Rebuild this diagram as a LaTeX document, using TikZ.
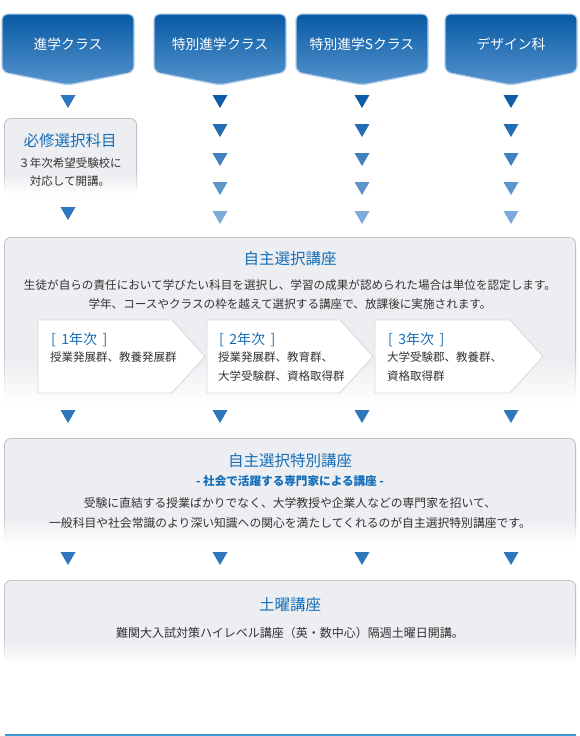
\documentclass[tikz,border=0pt]{standalone}
\usepackage{fontspec}
\setmainfont{Noto Sans CJK JP}
\definecolor{hdtop}{RGB}{8,90,164}
\definecolor{hdmid}{RGB}{22,104,176}
\definecolor{hdbot}{RGB}{86,148,206}
\definecolor{hdline}{RGB}{180,206,232}
\definecolor{boxg}{RGB}{236,238,241}
\definecolor{bordg}{RGB}{190,193,197}
\definecolor{aline}{RGB}{214,218,222}
\definecolor{ttl}{RGB}{22,110,184}
\definecolor{txt}{RGB}{51,51,51}
\definecolor{tra}{RGB}{12,92,166}
\definecolor{trb}{RGB}{34,108,178}
\definecolor{trc}{RGB}{62,128,192}
\definecolor{trd}{RGB}{92,148,204}
\definecolor{tre}{RGB}{126,170,218}
\definecolor{trm}{RGB}{48,118,188}
\definecolor{botline}{RGB}{58,154,216}
\pgfdeclareverticalshading{gfill}{100bp}{color(0bp)=(white); color(25bp)=(white); color(38bp)=(boxg); color(75bp)=(boxg); color(100bp)=(boxg)}
\pgfdeclareverticalshading{gring}{100bp}{color(0bp)=(white); color(27bp)=(white); color(42bp)=(bordg); color(100bp)=(bordg)}
\newcommand\graybox[4]{%
  \shade[shading=gring, even odd rule, rounded corners=7pt] (#1,#2) rectangle (#3,#4) [rounded corners=6pt] (#1+1.1,#2+1.1) rectangle (#3-1.1,#4-1.1);
  \shade[shading=gfill, rounded corners=6pt] (#1+1.1,#2+1.1) rectangle (#3-1.1,#4-1.1);
}
\newcommand\hdbox[3]{%
  \shadedraw[top color=hdtop, middle color=hdmid, bottom color=hdbot, draw=hdline, line width=1.2pt, rounded corners=6pt]
    (#1-66,72) -- (#1-66,14) -- (#1+66,14) -- (#1+66,72) -- (#1,85) -- cycle;
  \node[hdtext] (#2) at (#1,44) {#3};
}
\newcommand\tri[3]{\fill[#3] (#1-7.5,#2) -- (#1+7.5,#2) -- (#1,#2+13) -- cycle;}
\begin{document}
\begin{tikzpicture}[x=1pt,y=-1pt,
  every node/.style={inner sep=0pt},
  hdtext/.style={text=white, font=\fontsize{13.8}{16}\selectfont},
  ttlt/.style={text=ttl, font=\fontsize{15.5}{18}\selectfont},
  subt/.style={text=ttl, font=\fontsize{11.6}{14}\selectfont\bfseries},
  body/.style={text=txt, font=\fontsize{11.6}{19.5}\selectfont, align=center},
  yrt/.style={text=ttl, font=\fontsize{14}{16}\selectfont, anchor=west},
  yrb/.style={text=txt, font=\fontsize{11.5}{18.5}\selectfont, anchor=north west, align=left},
  abox/.style={fill=white, draw=aline, line width=0.9pt}]
\useasboundingbox (0,0) rectangle (580,736);
\fill[white] (0,0) rectangle (580,736);
% headers
\hdbox{68}{h1}{進学クラス}
\hdbox{220}{h2}{特別進学クラス}
\hdbox{362}{h3}{特別進学Sクラス}
\hdbox{511}{h4}{デザイン科}
% column 1
\tri{68}{95}{trm}
\graybox{4}{118}{137}{196}
\node[ttlt] (t0) at (70,141) {必修選択科目};
\node[body, font=\fontsize{11.5}{17.5}\selectfont] (b0) at (70,172) {３年次希望受験校に\\対応して開講。};
\tri{68}{207}{trm}
% columns 2-4
\foreach \c in {220,362,511}{
  \tri{\c}{95}{tra}
  \tri{\c}{124}{trb}
  \tri{\c}{153}{trc}
  \tri{\c}{182}{trd}
  \tri{\c}{211}{tre}
}
% box 1
\graybox{4}{237}{576}{406}
\node[ttlt] (t1) at (290,259) {自主選択講座};
\node[body] (b1) at (290,294.5) {生徒が自らの責任において学びたい科目を選択し、学習の成果が認められた場合は単位を認定します。\\学年、コースやクラスの枠を越えて選択する講座で、放課後に実施されます。};
\draw[abox] (38,320) -- (172,320) -- (205,356.5) -- (172,393) -- (38,393) -- cycle;
\draw[abox] (207,320) -- (340,320) -- (373,356.5) -- (340,393) -- (207,393) -- cycle;
\draw[abox] (375,320) -- (510,320) -- (543,356.5) -- (510,393) -- (375,393) -- cycle;
\node[yrt] (y1) at (51,340) {[\ \,1年次\ \,]};
\node[yrb] (y1b) at (50,352) {授業発展群、教養発展群};
\node[yrt] (y2) at (219,340) {[\ \,2年次\ \,]};
\node[yrb] (y2b) at (218,352) {授業発展群、教育群、\\大学受験群、資格取得群};
\node[yrt] (y3) at (388,340) {[\ \,3年次\ \,]};
\node[yrb] (y3b) at (387,352) {大学受験郡、教養群、\\資格取得群};
\foreach \c in {68,220,362,511}{\tri{\c}{410}{trm}}
% box 2
\graybox{4}{438}{576}{548}
\node[ttlt] (t2) at (290,461) {自主選択特別講座};
\node[subt] (s2) at (290,481) {- 社会で活躍する専門家による講座 -};
\node[body, font=\fontsize{11.8}{20}\selectfont] (b2) at (290,513) {受験に直結する授業ばかりでなく、大学教授や企業人などの専門家を招いて、\\一般科目や社会常識のより深い知識への関心を満たしてくれるのが自主選択特別講座です。};
\foreach \c in {68,220,362,511}{\tri{\c}{552}{trm}}
% box 3
\graybox{4}{580}{576}{666}
\node[ttlt] (t3) at (290,605) {土曜講座};
\node[body, font=\fontsize{12}{15}\selectfont] (b3) at (290,633) {難関大入試対策ハイレベル講座（英・数中心）隔週土曜日開講。};
% bottom line
\fill[botline] (5,733.5) rectangle (576,736);
\end{tikzpicture}
\end{document}
